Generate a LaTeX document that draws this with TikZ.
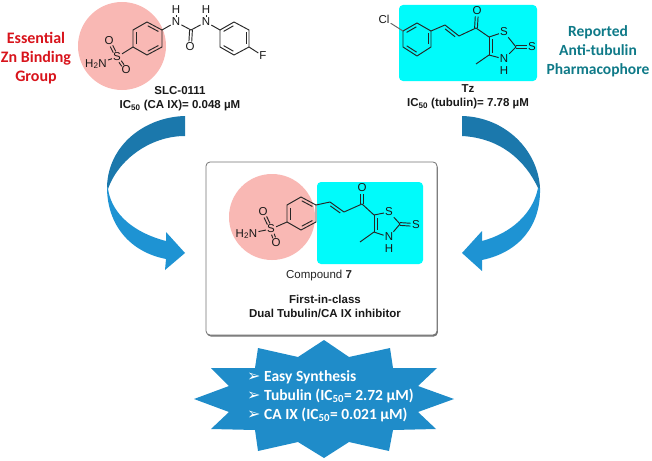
\documentclass[tikz,border=0pt]{standalone}
\usepackage{fontspec}
\setmainfont{Liberation Sans}
\newfontfamily\labelfont{Carlito}
\newfontfamily\symbolfont{DejaVu Sans}
\usetikzlibrary{calc, shadows}
\definecolor{pinkzone}{HTML}{F9B8B4}
\definecolor{cyanzone}{HTML}{00FBFB}
\definecolor{darkarrow}{HTML}{1B78AC}
\definecolor{lightarrow}{HTML}{1E93D3}
\definecolor{starblue}{HTML}{1F8CC9}
\definecolor{essentialred}{HTML}{D8141C}
\definecolor{reportedteal}{HTML}{0F7A88}
\tikzset{x=1pt, y=-1pt,
bond/.style={line width=0.95pt, color=black!85}, % bonds of the structures
atom/.style={font=\fontsize{11.5}{11.5}\selectfont, inner sep=1pt, text=black!90}, % atoms as text
caption/.style={font=\fontsize{11.5}{14}\selectfont\bfseries, align=center, text=black!90}, % bold captions
sidelabel/.style={font=\fontsize{15.5}{19}\selectfont\labelfont\bfseries, align=center}, % coloured labels
starline/.style={font=\fontsize{15.5}{15.5}\selectfont\labelfont\bfseries, text=white, anchor=west, inner sep=0pt}, % lines in the star
}
% inner line of a double bond in a ring or chain, #3 is the distance
\newcommand{\innerbond}[3]{\draw[bond, shorten >=2.5pt, shorten <=2.5pt] ($(#1)!#3!-90:(#2)$) -- ($(#2)!#3!90:(#1)$);}
% double bond to an atom, [#1] is what is left free at the start
\newcommand{\twobond}[3][5.5pt]{\draw[bond, shorten >=5.5pt, shorten <=#1] ($(#2)!1.4pt!-90:(#3)$) -- ($(#3)!1.4pt!90:(#2)$);
    \draw[bond, shorten >=5.5pt, shorten <=#1] ($(#2)!1.4pt!90:(#3)$) -- ($(#3)!1.4pt!-90:(#2)$);}
\newcommand{\starmark}{\makebox[17pt][l]{\symbolfont\fontsize{16}{16}\selectfont ➢}}
\begin{document}
\begin{tikzpicture}
    \useasboundingbox (0,0) rectangle (652,460);
    % zones behind SLC-0111 and Tz
    \node[circle, fill=pinkzone, minimum size=88pt, inner sep=0pt] (zinczone) at (122,46) {};
    \node[rounded corners=4pt, fill=cyanzone, minimum width=138pt, minimum height=76pt, inner sep=0pt] (tzzone) at (468,43) {};
    % SLC-0111
    \coordinate (a1) at (147,22);
    \coordinate (a2) at (162,30);
    \coordinate (a3) at (162,47);
    \coordinate (a4) at (147,55);
    \coordinate (a5) at (133,47);
    \coordinate (a6) at (133,30);
    \node[atom] (s1) at (117,57) {S};
    \node[atom] (o1) at (109,41) {O};
    \node[atom] (o2) at (126,70) {O};
    \node[atom, anchor=east] (n1) at (108,64) {H\textsubscript{2}N};
    \node[atom] (n2) at (176,22) {N};
    \node[atom] (h2) at (176,10) {H};
    \coordinate (c1) at (191,30);
    \node[atom] (o3) at (190,47) {O};
    \node[atom] (n3) at (206,22) {N};
    \node[atom] (h3) at (206,10) {H};
    \coordinate (b1) at (220,30);
    \coordinate (b2) at (234,22);
    \coordinate (b3) at (249,30);
    \coordinate (b4) at (249,47);
    \coordinate (b5) at (234,55);
    \coordinate (b6) at (220,47);
    \node[atom] (f1) at (263,56) {F};
    \draw[bond, line join=round] (a1) -- (a2) -- (a3) -- (a4) -- (a5) -- (a6) -- cycle;
    \draw[bond, line join=round] (b1) -- (b2) -- (b3) -- (b4) -- (b5) -- (b6) -- cycle;
    \innerbond{a1}{a2}{3pt}
    \innerbond{a3}{a4}{3pt}
    \innerbond{a5}{a6}{3pt}
    \innerbond{b1}{b2}{3pt}
    \innerbond{b3}{b4}{3pt}
    \innerbond{b5}{b6}{3pt}
    \draw[bond] (a5) -- (s1);
    \draw[bond] (s1) -- (n1);
    \twobond{s1}{o1}
    \twobond{s1}{o2}
    \draw[bond] (a2) -- (n2);
    \draw[bond] (n2) -- (h2);
    \draw[bond] (n2) -- (c1);
    \draw[bond] (c1) -- (n3);
    \draw[bond] (n3) -- (h3);
    \twobond[0pt]{c1}{o3}
    \draw[bond] (n3) -- (b1);
    \draw[bond] (b4) -- (f1);
    % Tz
    \node[atom] (cl1) at (384,19) {Cl};
    \coordinate (d1) at (403,31);
    \coordinate (d2) at (417,23);
    \coordinate (d3) at (431,31);
    \coordinate (d4) at (431,47);
    \coordinate (d5) at (417,56);
    \coordinate (d6) at (403,47);
    \coordinate (e1) at (445,25);
    \coordinate (e2) at (459,36);
    \coordinate (e3) at (476,28);
    \node[atom] (o4) at (477,11) {O};
    \coordinate (e4) at (489,37);
    \node[atom] (s2) at (504,32) {S};
    \coordinate (e5) at (516,47);
    \node[atom] (s3) at (532,47) {S};
    \node[atom] (n4) at (504,59) {N};
    \node[atom] (h4) at (504,71) {H};
    \coordinate (e6) at (489,55);
    \coordinate (e7) at (476,64);
    \draw[bond, line join=round] (d1) -- (d2) -- (d3) -- (d4) -- (d5) -- (d6) -- cycle;
    \innerbond{d1}{d2}{3pt}
    \innerbond{d3}{d4}{3pt}
    \innerbond{d5}{d6}{3pt}
    \draw[bond, black!60] (cl1) -- (d1);
    \draw[bond, line join=round] (d3) -- (e1) -- (e2) -- (e3) -- (e4);
    \innerbond{e1}{e2}{3pt}
    \twobond[0pt]{e3}{o4}
    \draw[bond] (e4) -- (s2);
    \draw[bond] (s2) -- (e5);
    \draw[bond] (e5) -- (n4);
    \draw[bond] (n4) -- (e6);
    \draw[bond] (e6) -- (e4);
    \innerbond{e6}{e4}{3pt}
    \draw[bond] (e6) -- (e7);
    \twobond[0pt]{e5}{s3}
    % side labels and captions
    \node[sidelabel, text=essentialred, font=\fontsize{16}{19}\selectfont\labelfont\bfseries] (essential) at (36,58) {Essential\\Zn Binding\\Group};
    \node[sidelabel, text=reportedteal] (reported) at (598,51) {Reported\\Anti-tubulin\\Pharmacophore};
    \node[caption] (slc) at (180,99) {SLC-0111\\IC\textsubscript{50} (CA IX)= 0.048 µM};
    \node[caption] (tz) at (468,96.5) {Tz\\IC\textsubscript{50} (tubulin)= 7.78 µM};
    % curved arrows
    \fill[darkarrow] (185,116) .. controls (145,117) and (108,145) .. (107,187) -- (108,189) .. controls (118,160) and (150,136) .. (185,136) -- cycle;
    \fill[lightarrow] (107,187) .. controls (107,225) and (130,252) .. (166,259) -- (165,270) -- (185,253) -- (166,232) -- (166,241) .. controls (135,233) and (112,215) .. (108,189) -- cycle;
    \fill[darkarrow] (462,116) .. controls (505,117) and (538,150) .. (540,188) -- (538,188) .. controls (525,160) and (500,138) .. (462,136) -- cycle;
    \fill[lightarrow] (540,188) .. controls (541,225) and (520,252) .. (482,260) -- (482,271) -- (462,253) -- (482,231) -- (482,241) .. controls (512,233) and (533,213) .. (538,188) -- cycle;
    % compound box
    \node[draw=black!55, line width=0.8pt, fill=white, rounded corners=4pt, minimum width=231pt, minimum height=173pt, inner sep=0pt, drop shadow={shadow xshift=0.8pt, shadow yshift=-1.5pt, fill=black!55, opacity=1}] (compoundbox) at (321.5,248.5) {};
    \node[circle, fill=pinkzone, minimum size=86pt, inner sep=0pt] (zinczone7) at (272,217) {};
    \node[rounded corners=4pt, fill=cyanzone, minimum width=106pt, minimum height=82pt, inner sep=0pt] (tzzone7) at (370,223) {};
    \coordinate (g1) at (301,197);
    \coordinate (g2) at (316,205);
    \coordinate (g3) at (316,222);
    \coordinate (g4) at (301,230);
    \coordinate (g5) at (287,222);
    \coordinate (g6) at (287,205);
    \node[atom] (s4) at (271,229) {S};
    \node[atom] (o5) at (263,212) {O};
    \node[atom] (o6) at (276,243) {O};
    \node[atom, anchor=east] (n5) at (258.5,234) {H\textsubscript{2}N};
    \coordinate (k1) at (330,202);
    \coordinate (k2) at (344,212);
    \coordinate (k3) at (362,204);
    \node[atom] (o7) at (362,188) {O};
    \coordinate (k4) at (374,215);
    \node[atom] (s5) at (389,212) {S};
    \coordinate (k5) at (400,224);
    \node[atom] (s6) at (416,225) {S};
    \node[atom] (n6) at (389,237) {N};
    \node[atom] (h6) at (389,249) {H};
    \coordinate (k6) at (374,232);
    \coordinate (k7) at (360,242);
    \draw[bond, line join=round] (g1) -- (g2) -- (g3) -- (g4) -- (g5) -- (g6) -- cycle;
    \innerbond{g1}{g2}{3pt}
    \innerbond{g3}{g4}{3pt}
    \innerbond{g5}{g6}{3pt}
    \draw[bond] (g5) -- (s4);
    \draw[bond] (s4) -- (n5);
    \twobond{s4}{o5}
    \twobond{s4}{o6}
    \draw[bond, line join=round] (g2) -- (k1) -- (k2) -- (k3) -- (k4);
    \innerbond{k1}{k2}{3pt}
    \twobond[0pt]{k3}{o7}
    \draw[bond] (k4) -- (s5);
    \draw[bond] (s5) -- (k5);
    \draw[bond] (k5) -- (n6);
    \draw[bond] (n6) -- (k6);
    \draw[bond] (k6) -- (k4);
    \innerbond{k6}{k4}{3pt}
    \draw[bond] (k6) -- (k7);
    \twobond[0pt]{k5}{s6}
    \node[font=\fontsize{11.5}{14}\selectfont, text=black!85] (compound) at (319,276) {Compound \textbf{7}};
    \node[caption] (firstclass) at (325,306) {First-in-class\\Dual Tubulin/CA IX inhibitor};
    % star
    \fill[starblue] (324,340) -- (349,357) -- (390,348) -- (393,368) -- (437,368) -- (418,386) -- (454,399) -- (418,412) -- (436,429) -- (393,430) -- (389,451) -- (349,442) -- (324,458) -- (298,442) -- (258,451) -- (255,430) -- (211,429) -- (229,412) -- (194,399) -- (229,386) -- (211,368) -- (255,368) -- (258,348) -- (298,357) -- cycle;
    \node[starline] (easy) at (247,377) {\starmark Easy Synthesis};
    \node[starline] (tubulin) at (247,396) {\starmark Tubulin (IC\textsubscript{50}= 2.72 µM)};
    \node[starline] (caix) at (247,415) {\starmark CA IX (IC\textsubscript{50}= 0.021 µM)};
\end{tikzpicture}
\end{document}
